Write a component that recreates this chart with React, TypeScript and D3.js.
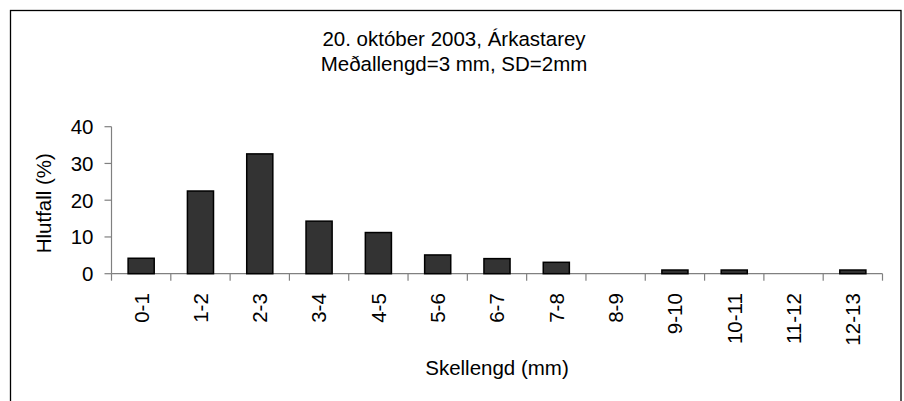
import { scaleBand, scaleLinear } from 'd3'

const categories = ['0-1', '1-2', '2-3', '3-4', '4-5', '5-6', '6-7', '7-8', '8-9', '9-10', '10-11', '11-12', '12-13']
const values = [4.2, 22.5, 32.6, 14.3, 11.2, 5.1, 4.1, 3.1, 0, 1.0, 1.0, 0, 1.0]
const yTicks = [0, 10, 20, 30, 40]

const titleLines = ['20. október 2003, Árkastarey', 'Meðallengd=3 mm, SD=2mm']
const yLabel = 'Hlutfall (%)'
const xLabel = 'Skellengd (mm)'

const width = 904
const height = 401
const font = 'Arial, "Liberation Sans", sans-serif'
const fs = 20.5

const plot = { left: 111.5, right: 882.5, top: 126.7, bottom: 273.7 }

function App() {
  const xScale = scaleBand()
    .domain(categories)
    .range([plot.left, plot.right])

  const yScale = scaleLinear()
    .domain([0, 40])
    .range([plot.bottom, plot.top])

  const barW = xScale.bandwidth() * 0.44

  return (
    <svg width={width} height={height} style={{ position: 'absolute', left: 0, top: 0 }} fontFamily={font}>
      <rect x={10.5} y={10.5} width={890.5} height={400} fill="white" stroke="black" strokeWidth={1.3} />

      {titleLines.map((t, i) => (
        <text key={t} x={454} y={46 + i * 24.5} textAnchor="middle" fontSize={fs} fill="black">{t}</text>
      ))}

      {/* y axis */}
      <line x1={plot.left} x2={plot.left} y1={plot.top} y2={plot.bottom} stroke="#808080" strokeWidth={1.2} />
      {yTicks.map(t => (
        <g key={t} transform={`translate(0,${yScale(t)})`}>
          <line x1={plot.left - 7} x2={plot.left} stroke="#808080" strokeWidth={1.2} />
          <text x={plot.left - 18} dy="0.36em" textAnchor="end" fontSize={fs}>{t}</text>
        </g>
      ))}
      <text transform={`translate(51,${(plot.top + plot.bottom) / 2 + 3}) rotate(-90)`} textAnchor="middle" fontSize={fs}>{yLabel}</text>

      {/* x axis */}
      <line x1={plot.left} x2={plot.right} y1={plot.bottom} y2={plot.bottom} stroke="#808080" strokeWidth={1.2} />
      {[...categories.map(c => xScale(c)!), plot.right].map((x, i) => (
        <line key={i} x1={x} x2={x} y1={plot.bottom} y2={plot.bottom + 7} stroke="#808080" strokeWidth={1.2} />
      ))}
      {categories.map(c => (
        <text
          key={c}
          transform={`translate(${xScale(c)! + xScale.bandwidth() / 2},${plot.bottom + 19.5}) rotate(-90)`}
          textAnchor="end"
          dy="0.36em"
          fontSize={fs}
        >{c}</text>
      ))}
      <text x={(plot.left + plot.right) / 2} y={375} textAnchor="middle" fontSize={fs}>{xLabel}</text>

      {/* bars */}
      {categories.map((c, i) => values[i] > 0 && (
        <rect
          key={c}
          x={xScale(c)! + (xScale.bandwidth() - barW) / 2}
          y={yScale(values[i])}
          width={barW}
          height={plot.bottom - yScale(values[i])}
          fill="#333333"
          stroke="black"
          strokeWidth={1.5}
        />
      ))}
    </svg>
  )
}

export default App
